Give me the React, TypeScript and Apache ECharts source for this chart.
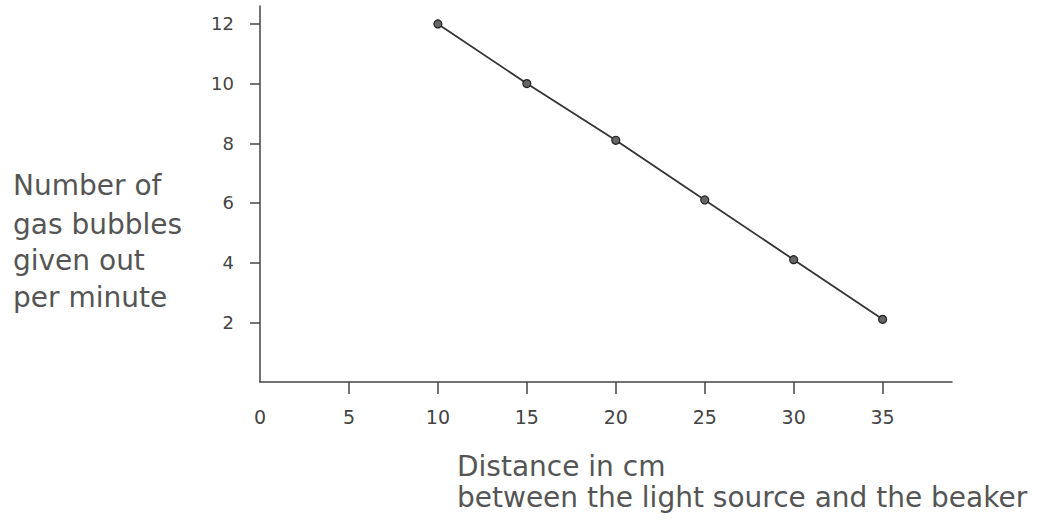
import React, { useEffect, useRef } from "react";
import * as echarts from "echarts";

const distances = [10, 15, 20, 25, 30, 35];
const bubbles = [12, 10, 8.1, 6.1, 4.1, 2.1];
const xTickValues = [5, 10, 15, 20, 25, 30, 35];
const xLabelValues = [0, 5, 10, 15, 20, 25, 30, 35];
const yTickValues = [2, 4, 6, 8, 10, 12];
const yNameLines = ["Number of", "gas bubbles", "given out", "per minute"];
const xNameLines = ["Distance in cm", "between the light source and the beaker"];
const xMax = 38.9;
const yMax = 12.6;

export default function App() {
  const ref = useRef<HTMLDivElement>(null);
  useEffect(() => {
    if (!ref.current) return;
    const chart = echarts.init(ref.current, null, { renderer: "svg" });
    const font = "DejaVu Sans";
    const yCenters = [185, 224, 260, 297];
    const xCenters = [466, 497];
    chart.setOption({
      animation: false,
      backgroundColor: "#ffffff",
      grid: { left: 260, right: 96, top: 6, bottom: 138 },
      xAxis: {
        type: "value",
        min: 0,
        max: xMax,
        interval: 5,
        splitLine: { show: false },
        axisLine: { lineStyle: { color: "#444", width: 1.5 } },
        axisTick: {
          show: true,
          length: 12,
          customValues: xTickValues,
          lineStyle: { color: "#444", width: 1.5 },
        },
        axisLabel: {
          margin: 25,
          fontFamily: font,
          fontSize: 19,
          color: "#444",
          customValues: xLabelValues,
        },
      },
      yAxis: {
        type: "value",
        min: 0,
        max: yMax,
        interval: 2,
        splitLine: { show: false },
        axisLine: { show: true, lineStyle: { color: "#444", width: 1.5 } },
        axisTick: {
          show: true,
          length: 10,
          customValues: yTickValues,
          lineStyle: { color: "#444", width: 1.5 },
        },
        axisLabel: {
          margin: 26,
          fontFamily: font,
          fontSize: 18,
          color: "#444",
          customValues: yTickValues,
        },
      },
      series: [
        {
          type: "line",
          data: distances.map((d, i) => [d, bubbles[i]]),
          symbol: "circle",
          symbolSize: 8,
          lineStyle: { color: "#333", width: 1.8 },
          itemStyle: { color: "#666", borderColor: "#222", borderWidth: 1.2 },
        },
      ],
      graphic: [
        ...yNameLines.map((t, i) => ({
          type: "text",
          x: 13,
          y: yCenters[i],
          style: {
            text: t,
            fontFamily: font,
            fontSize: 28,
            fill: "#555",
            align: "left",
            verticalAlign: "middle",
          },
        })),
        ...xNameLines.map((t, i) => ({
          type: "text",
          x: 457,
          y: xCenters[i],
          style: {
            text: t,
            fontFamily: font,
            fontSize: 28,
            fill: "#555",
            align: "left",
            verticalAlign: "middle",
          },
        })),
      ],
    });
    return () => chart.dispose();
  }, []);
  return (
    <div
      ref={ref}
      style={{ position: "fixed", left: 0, top: 0, width: 1048, height: 520 }}
    />
  );
}
